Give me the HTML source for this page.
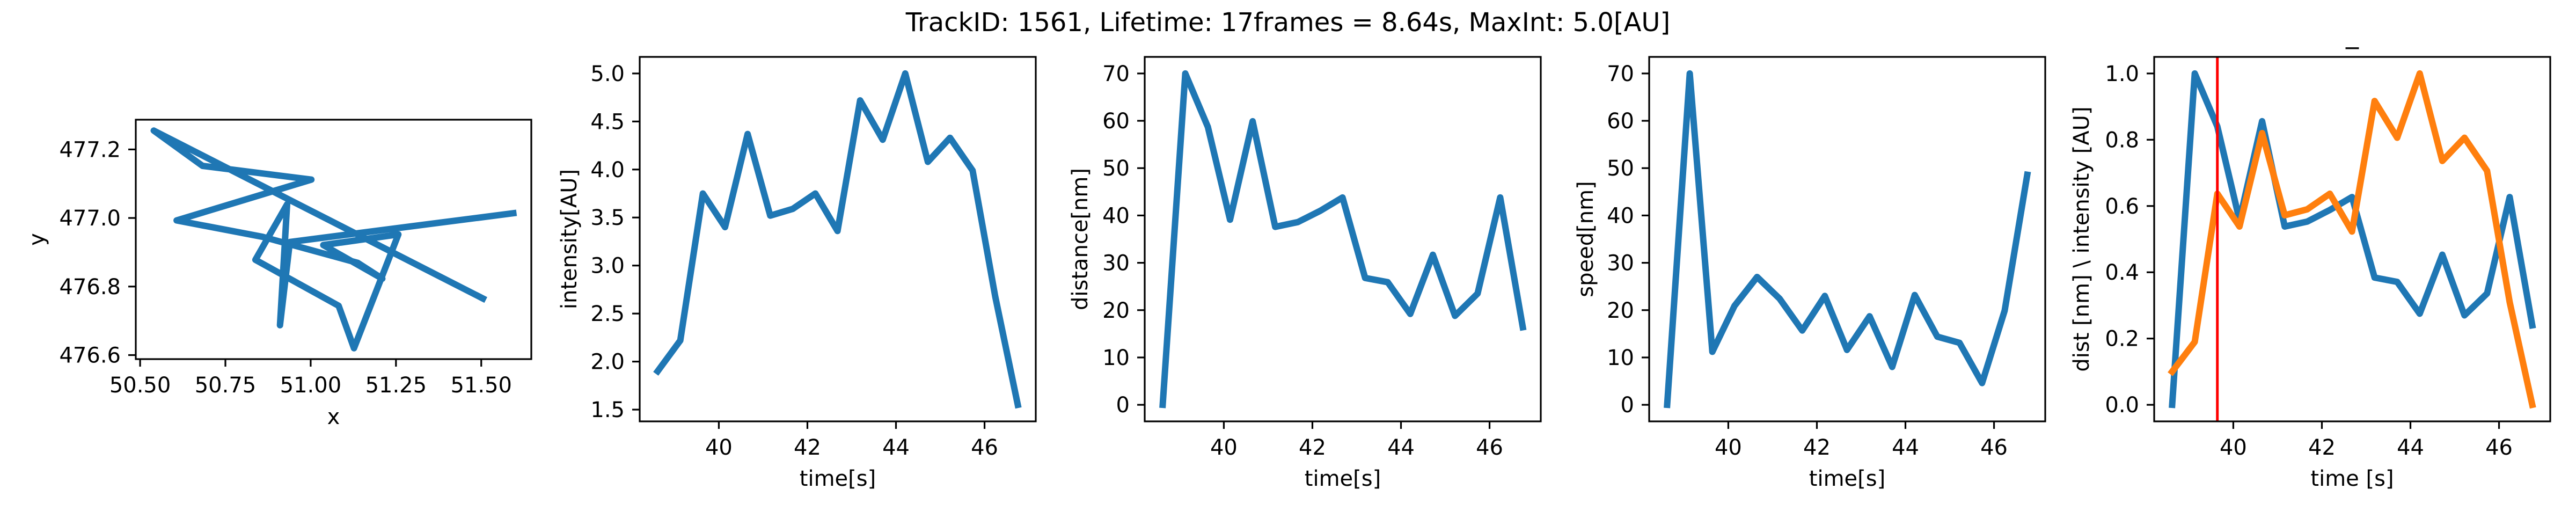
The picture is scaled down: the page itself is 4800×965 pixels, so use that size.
<!DOCTYPE html>
<html><head><meta charset="utf-8"><style>
html,body{margin:0;padding:0;background:#fff;}
svg text{font-family:"DejaVu Sans","Liberation Sans",sans-serif;fill:#000;}
</style></head><body>
<svg id="fig" width="4800" height="960" viewBox="0 0 4800 960" xmlns="http://www.w3.org/2000/svg">
<rect width="4800" height="960" fill="#fff"/>
<text x="2400" y="58" font-size="48" text-anchor="middle">TrackID: 1561, Lifetime: 17frames = 8.64s, MaxInt: 5.0[AU]</text>
</svg>
<script>
const trackX = [51.505,50.54,50.683,51.002,50.607,50.859,51.138,51.210,51.037,51.257,51.127,51.082,50.838,50.931,50.910,50.939,51.594];
const trackY = [476.765,477.255,477.152,477.112,476.993,476.945,476.869,476.823,476.921,476.952,476.620,476.744,476.878,477.040,476.687,476.930,477.014];
const times = [38.62,39.13,39.64,40.14,40.65,41.16,41.67,42.18,42.68,43.19,43.70,44.21,44.72,45.22,45.73,46.24,46.75];
const intensity = [1.90,2.22,3.75,3.40,4.37,3.52,3.59,3.75,3.36,4.72,4.31,5.00,4.08,4.33,3.99,2.68,1.55];
const distance = [0,70,58.7,39.1,59.9,37.6,38.6,41.0,43.8,26.8,25.9,19.2,31.7,18.8,23.5,43.8,16.4];
const speed = [0,70,11.2,20.9,27.0,22.4,15.7,23.0,11.6,18.7,8.0,23.2,14.4,13.1,4.6,19.9,48.6];
const normDist = [0,1.0,0.84,0.557,0.856,0.538,0.553,0.588,0.627,0.384,0.371,0.275,0.453,0.270,0.336,0.627,0.240];
const normInt = [0.10,0.19,0.637,0.538,0.82,0.572,0.59,0.637,0.523,0.917,0.806,1.0,0.736,0.806,0.706,0.31,0.0];
const markerFrame = 2;
const xyXTicks = [50.5,50.75,51.0,51.25,51.5];
const xyXTickLabels = ["50.50","50.75","51.00","51.25","51.50"];
const xyYTicks = [476.6,476.8,477.0,477.2];
const xyYTickLabels = ["476.6","476.8","477.0","477.2"];
const timeTicks = [40,42,44,46];
const timeTickLabels = ["40","42","44","46"];
const intTicks = [1.5,2.0,2.5,3.0,3.5,4.0,4.5,5.0];
const intTickLabels = ["1.5","2.0","2.5","3.0","3.5","4.0","4.5","5.0"];
const nmTicks = [0,10,20,30,40,50,60,70];
const nmTickLabels = ["0","10","20","30","40","50","60","70"];
const normTicks = [0,0.2,0.4,0.6,0.8,1.0];
const normTickLabels = ["0.0","0.2","0.4","0.6","0.8","1.0"];

const NS = "http://www.w3.org/2000/svg";
const fig = document.getElementById('fig');
function mk(tag, attrs, parent){
  const e = document.createElementNS(NS, tag);
  for (const k in attrs) e.setAttribute(k, attrs[k]);
  (parent||fig).appendChild(e);
  return e;
}
function lim(arrs){
  let lo = Infinity, hi = -Infinity;
  arrs.forEach(a => a.forEach(v => { if (v < lo) lo = v; if (v > hi) hi = v; }));
  const m = (hi - lo) * 0.05;
  return [lo - m, hi + m];
}
function makePanel(name, box, xl, yl, xt, xtl, yt, ytl, xlabel, ylabel, ylabOff, xtickY, xlabY){
  const g = mk('g', {});
  
  
  const sx = v => box.x0 + (v - xl[0]) / (xl[1] - xl[0]) * (box.x1 - box.x0);
  const sy = v => box.y1 - (v - yl[0]) / (yl[1] - yl[0]) * (box.y1 - box.y0);
  xt.forEach((v, i) => {
    const x = sx(v);
    const t = mk('line', {x1:x, x2:x, y1:box.y1, y2:box.y1+14, stroke:'#000', 'stroke-width':3.2}, g);
    
    
    const tx = mk('text', {x:x, y:xtickY, 'font-size':40, 'text-anchor':'middle'}, g);
    tx.textContent = xtl[i];
    
    
  });
  yt.forEach((v, i) => {
    const y = sy(v);
    const t = mk('line', {x1:box.x0-14, x2:box.x0, y1:y, y2:y, stroke:'#000', 'stroke-width':3.2}, g);
    
    
    const tx = mk('text', {x:box.x0-28, y:y+14, 'font-size':40, 'text-anchor':'end'}, g);
    tx.textContent = ytl[i];
    
    
  });
  const xlb = mk('text', {x:(box.x0+box.x1)/2, y:xlabY, 'font-size':40, 'text-anchor':'middle'}, g);
  xlb.textContent = xlabel;
  
  
  const cx = box.x0 - ylabOff, cy = (box.y0 + box.y1) / 2;
  const ylb = mk('text', {x:cx, y:cy, 'font-size':40, 'text-anchor':'middle', 'dominant-baseline':'central', transform:'rotate(-90 '+cx+' '+cy+')'}, g);
  ylb.textContent = ylabel;
  
  
  return {g, sx, sy, box};
}
function series(p, xs, ys, color, name){
  const pts = xs.map((x, i) => p.sx(x).toFixed(1) + ',' + p.sy(ys[i]).toFixed(1)).join(' ');
  const l = mk('polyline', {points:pts, fill:'none', stroke:color, 'stroke-width':12, 'stroke-linejoin':'round', 'stroke-linecap':'square'}, p.g);
  
  
}
function frame(p){
  const b = p.box;
  const r = mk('rect', {x:b.x0, y:b.y0, width:b.x1-b.x0, height:b.y1-b.y0, fill:'none', stroke:'#000', 'stroke-width':3.2}, p.g);
  
  
}

const tl = lim([times]);
// Panel 1: xy track
const p1 = makePanel('track-xy-panel', {x0:253,x1:990,y0:223,y1:669}, lim([trackX]), lim([trackY]), xyXTicks, xyXTickLabels, xyYTicks, xyYTickLabels, 'x', 'y', 184, 731, 790);
series(p1, trackX, trackY, '#1f77b4', 'track-line');
frame(p1);
// Panel 2
const p2 = makePanel('intensity-panel', {x0:1192,x1:1930,y0:106,y1:785}, tl, lim([intensity]), timeTicks, timeTickLabels, intTicks, intTickLabels, 'time[s]', 'intensity[AU]', 131, 847, 905);
series(p2, times, intensity, '#1f77b4', 'intensity-line');
frame(p2);
// Panel 3
const p3 = makePanel('distance-panel', {x0:2133,x1:2871,y0:106,y1:785}, tl, lim([distance]), timeTicks, timeTickLabels, nmTicks, nmTickLabels, 'time[s]', 'distance[nm]', 120, 847, 905);
series(p3, times, distance, '#1f77b4', 'distance-line');
frame(p3);
// Panel 4
const p4 = makePanel('speed-panel', {x0:3073,x1:3811,y0:106,y1:785}, tl, lim([speed]), timeTicks, timeTickLabels, nmTicks, nmTickLabels, 'time[s]', 'speed[nm]', 118, 847, 905);
series(p4, times, speed, '#1f77b4', 'speed-line');
frame(p4);
// Panel 5
const p5 = makePanel('normalized-panel', {x0:4014,x1:4752,y0:106,y1:785}, tl, lim([normDist, normInt]), timeTicks, timeTickLabels, normTicks, normTickLabels, 'time [s]', 'dist [nm] \\ intensity [AU]', 135, 847, 905);
series(p5, times, normDist, '#1f77b4', 'normalized-distance-line');
series(p5, times, normInt, '#ff7f0e', 'normalized-intensity-line');
const vx = p5.sx(times[markerFrame]);
const vl = mk('line', {x1:vx, x2:vx, y1:106, y2:785, stroke:'#ff0000', 'stroke-width':5}, p5.g);


frame(p5);
const t5 = mk('text', {x:4383, y:80, 'font-size':48, 'text-anchor':'middle'}, p5.g);
t5.textContent = '_';


</script>
</body></html>
